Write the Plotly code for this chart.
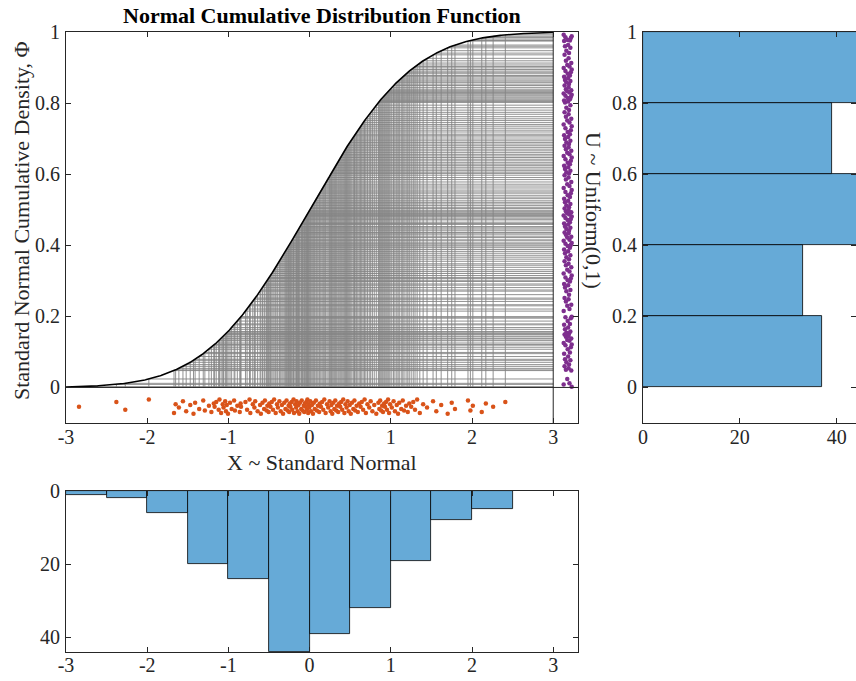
import math
import plotly.graph_objects as go

# ---------------- data ----------------
x_bin1 = [-2.84]
x_bin2 = [-2.38, -2.27]
x_bin3 = [-1.98, -1.67, -1.65, -1.61, -1.56, -1.52]
x_bin4 = [-1.47, -1.43, -1.41, -1.36, -1.31, -1.29, -1.24, -1.21, -1.18, -1.17,
          -1.15, -1.12, -1.11, -1.09, -1.07, -1.06, -1.04, -1.03, -1.02, -1.005]
x_bin5 = [-0.98, -0.96, -0.93, -0.92, -0.89, -0.86, -0.85, -0.845, -0.79, -0.77,
          -0.74, -0.73, -0.70, -0.68, -0.67, -0.64, -0.61, -0.60, -0.58, -0.56,
          -0.55, -0.53, -0.52, -0.505]
x_bin6 = [-0.497, -0.482, -0.466, -0.451, -0.437, -0.418, -0.402, -0.391, -0.372,
          -0.356, -0.341, -0.327, -0.312, -0.298, -0.284, -0.271, -0.259,
          -0.252, -0.243, -0.236, -0.221, -0.214, -0.198, -0.192, -0.178, -0.166,
          -0.161, -0.149, -0.137, -0.128, -0.119, -0.104, -0.097, -0.088, -0.072,
          -0.066, -0.058, -0.047, -0.041, -0.033, -0.027, -0.018, -0.011, -0.004]
x_bin7 = [0.008, 0.017, 0.029, 0.041, 0.052, 0.063, 0.078, 0.089, 0.102, 0.117,
          0.126, 0.139, 0.154, 0.168, 0.181, 0.197, 0.214, 0.229, 0.246,
          0.259, 0.268, 0.279, 0.291, 0.304, 0.316, 0.327, 0.338, 0.352, 0.364,
          0.377, 0.389, 0.401, 0.414, 0.428, 0.441, 0.455, 0.468, 0.481, 0.494]
x_bin8 = [0.507, 0.521, 0.538, 0.552, 0.561, 0.579, 0.594, 0.611, 0.628, 0.642,
          0.659, 0.677, 0.693, 0.712, 0.734, 0.752, 0.773, 0.796, 0.821,
          0.847, 0.858, 0.869, 0.881, 0.893, 0.904, 0.917, 0.928, 0.941, 0.953,
          0.966, 0.978, 0.991]
x_bin9 = [1.012, 1.034, 1.051, 1.073, 1.089, 1.104, 1.128, 1.147, 1.163, 1.188,
          1.209, 1.227, 1.251, 1.276, 1.298, 1.324, 1.357, 1.398, 1.446]
x_bin10 = [1.52, 1.56, 1.62, 1.70, 1.75, 1.79, 1.95, 1.98]
x_bin11 = [2.01, 2.12, 2.17, 2.26, 2.41]

x_samples = (x_bin1 + x_bin2 + x_bin3 + x_bin4 + x_bin5 + x_bin6 + x_bin7 +
             x_bin8 + x_bin9 + x_bin10 + x_bin11)

x_ticks = [-3, -2, -1, 0, 1, 2, 3]
x_tick_text = ["-3", "-2", "-1", "0", "1", "2", "3"]
y_ticks = [0, 0.2, 0.4, 0.6, 0.8, 1]
y_tick_text = ["0", "0.2", "0.4", "0.6", "0.8", "1"]
count_ticks = [0, 20, 40]


def phi(v):
    return 0.5 * (1.0 + math.erf(v / math.sqrt(2.0)))


u_samples = [phi(v) for v in x_samples]

# the CDF curve
curve_x = [-3 + i * 0.01 for i in range(601)]
curve_y = [phi(v) for v in curve_x]

# ---------------- styles ----------------
FONT = "Liberation Serif"
AX = "#262626"
BAR = "#66AAD7"
GRAY = "#858585"
ORANGE = "#D95319"
PURPLE = "#7E2F8E"
JIT = [0.0, 0.6, -0.4, 0.9, -0.8, 0.3, -0.1, 0.7, -0.6, 0.2, -0.9, 0.5, -0.3, 0.8, -0.5, 0.1, -0.7, 0.4]

W, H = 856, 681


def px(x):
    return x / W


def py(y):
    return 1 - y / H


# gray guide lines
gx, gy = [], []
for xv, uv in zip(x_samples, u_samples):
    gx += [xv, xv, None, xv, 3, None]
    gy += [0, uv, None, uv, uv, None]

fig = go.Figure()
fig.add_trace(go.Scatter(x=gx, y=gy, mode="lines", line=dict(color=GRAY, width=0.9),
                         hoverinfo="skip", showlegend=False))
fig.add_trace(go.Scatter(x=curve_x, y=curve_y, mode="lines", line=dict(color="black", width=1.6),
                         showlegend=False))
fig.add_trace(go.Scatter(x=x_samples,
                         y=[-0.054 + 0.022 * JIT[i % len(JIT)] for i in range(len(x_samples))],
                         mode="markers", marker=dict(color=ORANGE, size=4.5), showlegend=False))
fig.add_trace(go.Scatter(x=[3.178 + 0.055 * JIT[(i * 7 + 3) % len(JIT)] for i in range(len(u_samples))],
                         y=u_samples, mode="markers", marker=dict(color=PURPLE, size=4.5),
                         showlegend=False))

fig.add_trace(go.Histogram(y=u_samples, ybins=dict(start=0, end=1, size=0.2),
                           marker=dict(color=BAR, line=dict(color="black", width=0.8)),
                           xaxis="x2", yaxis="y2", showlegend=False))
fig.add_trace(go.Histogram(x=x_samples, xbins=dict(start=-3, end=2.5, size=0.5),
                           marker=dict(color=BAR, line=dict(color="black", width=0.8)),
                           xaxis="x3", yaxis="y3", showlegend=False))

axcommon = dict(showline=True, linecolor=AX, linewidth=1, mirror="ticks", ticks="inside",
                ticklen=5, tickcolor=AX, tickwidth=1, showgrid=False, zeroline=False,
                automargin=False,
                tickfont=dict(family=FONT, size=20, color=AX))

main_xd = [px(66), px(578)]
main_yd = [py(423), py(32)]

fig.update_layout(
    template="none",
    width=W, height=H, margin=dict(l=0, r=0, t=0, b=0, pad=0),
    paper_bgcolor="white", plot_bgcolor="white",
    bargap=0,
    xaxis=dict(domain=main_xd, range=[-3, 3.305], tickvals=x_ticks, ticktext=x_tick_text,
               ticklabelstandoff=-4, **axcommon),
    yaxis=dict(domain=main_yd, range=[-0.1, 1], tickvals=y_ticks, ticktext=y_tick_text,
               ticklabelstandoff=1, **axcommon),
    xaxis2=dict(domain=[px(643), 1.0], range=[0, 44], tickvals=count_ticks, anchor="y2",
                ticklabelstandoff=-4, **axcommon),
    yaxis2=dict(domain=main_yd, range=[-0.1, 1], tickvals=y_ticks, ticktext=y_tick_text,
                anchor="x2", ticklabelstandoff=1, **axcommon),
    xaxis3=dict(domain=main_xd, range=[-3, 3.305], tickvals=x_ticks, ticktext=x_tick_text,
                anchor="y3", ticklabelstandoff=-5, **axcommon),
    yaxis3=dict(domain=[py(652), py(491)], range=[44, 0], tickvals=count_ticks, anchor="x3",
                ticklabelstandoff=1, **axcommon),
    shapes=[
        dict(type="line", xref="x domain", yref="y", x0=0, x1=1, y0=0, y1=0,
             line=dict(color=AX, width=1)),
        dict(type="line", xref="x", yref="y domain", x0=3, x1=3, y0=0, y1=1,
             line=dict(color=AX, width=1)),
    ],
    annotations=[
        dict(text="<b>Normal Cumulative Distribution Function</b>", x=px(322), y=py(16),
             xref="paper", yref="paper", showarrow=False, xanchor="center", yanchor="middle",
             font=dict(family=FONT, size=22, color="black")),
        dict(text="Standard Normal Cumulative Density, Φ", x=px(21), y=py(221),
             xref="paper", yref="paper", showarrow=False, textangle=-90,
             xanchor="center", yanchor="middle", font=dict(family=FONT, size=22, color=AX)),
        dict(text="X ~ Standard Normal", x=px(322), y=py(463),
             xref="paper", yref="paper", showarrow=False,
             xanchor="center", yanchor="middle", font=dict(family=FONT, size=22, color=AX)),
        dict(text="U ~ Uniform(0,1)", x=px(593), y=py(210),
             xref="paper", yref="paper", showarrow=False, textangle=90,
             xanchor="center", yanchor="middle", font=dict(family=FONT, size=22, color=AX)),
    ],
)

fig.write_html("out.html")
